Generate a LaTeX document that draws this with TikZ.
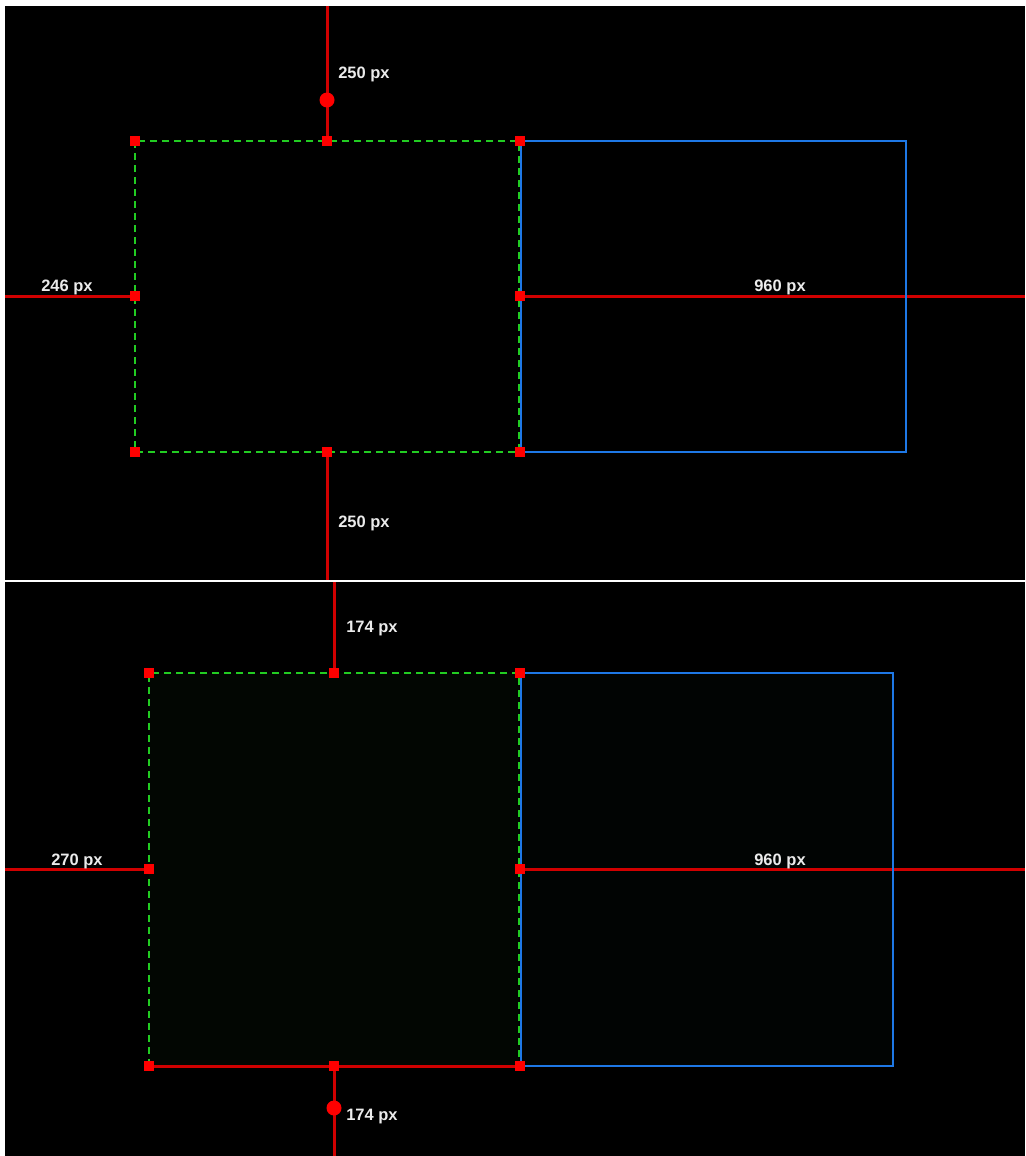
\documentclass[tikz,border=0pt]{standalone}
\usepackage{fontspec}
\setmainfont{Liberation Sans}
\definecolor{rline}{HTML}{D00000}
\definecolor{rsq}{HTML}{FF0000}
\definecolor{gline}{HTML}{22CC22}
\definecolor{bline}{HTML}{1E78E6}
\definecolor{gfill}{HTML}{020602}
\definecolor{bfill}{HTML}{010403}
\begin{document}
\begin{tikzpicture}[x=1pt,y=-1pt,
  redline/.style={draw=rline, line width=3pt},
  sq/.style={fill=rsq, minimum size=10pt, inner sep=0pt, draw=none},
  dot/.style={circle, fill=rsq, minimum size=15pt, inner sep=0pt, draw=none},
  lbl/.style={text=white!92!black, font=\bfseries\fontsize{16.5}{17}\selectfont, inner sep=0pt},
  greenbox/.style={draw=gline, dash pattern=on 7pt off 5pt, line width=2pt},
  bluebox/.style={draw=bline, line width=2.2pt}]
\useasboundingbox (0,0) rectangle (1025,1156);
\fill[white] (0,0) rectangle (1025,1156);
\fill[black] (5,6) rectangle (1025,579.5);
\fill[black] (5,582) rectangle (1025,1156);

% ---------- top panel ----------
\coordinate (tT) at (327,6);
\coordinate (tB) at (327,579.5);
\coordinate (tL) at (5,296);
\coordinate (tR) at (1025,296);
\draw[redline] (tT) -- (327,141);
\draw[redline] (327,452) -- (tB);
\draw[redline] (tL) -- (135,296);
\draw[redline] (520,296) -- (tR);
\draw[greenbox] (135,141) rectangle (519,452);
\draw[bluebox] (521,141) rectangle (906,452);
\node[dot] (tdot) at (327,100) {};
\node[sq] (t1) at (135,141) {};
\node[sq] (t2) at (327,141) {};
\node[sq] (t3) at (520,141) {};
\node[sq] (t4) at (135,296) {};
\node[sq] (t5) at (520,296) {};
\node[sq] (t6) at (135,452) {};
\node[sq] (t7) at (327,452) {};
\node[sq] (t8) at (520,452) {};
\node[lbl] (tl1) at (364,74) {250 px};
\node[lbl] (tl2) at (67,287) {246 px};
\node[lbl] (tl3) at (780,287) {960 px};
\node[lbl] (tl4) at (364,523) {250 px};

% ---------- bottom panel ----------
\coordinate (bT) at (334,582);
\coordinate (bB) at (334,1156);
\coordinate (bL) at (5,869);
\coordinate (bR) at (1025,869);
\fill[gfill] (149,673) rectangle (519,1066);
\fill[bfill] (521,673) rectangle (893,1066);
\draw[redline] (bT) -- (334,673);
\draw[redline] (334,1066) -- (bB);
\draw[redline] (bL) -- (149,869);
\draw[redline] (520,869) -- (bR);
\draw[greenbox] (149,1066) -- (149,673) -- (519,673) -- (519,1066);
\draw[bluebox] (521,673) rectangle (893,1066);
\node[sq] (b1) at (149,673) {};
\node[sq] (b2) at (334,673) {};
\node[sq] (b3) at (520,673) {};
\node[sq] (b4) at (149,869) {};
\node[sq] (b5) at (520,869) {};
\node[sq] (b6) at (149,1066) {};
\node[sq] (b7) at (334,1066) {};
\node[sq] (b8) at (520,1066) {};
\draw[redline] (b6) -- (b7) -- (b8);
\node[dot] (bdot) at (334,1108) {};
\node[lbl] (bl1) at (372,629) {174 px};
\node[lbl] (bl2) at (77,861) {270 px};
\node[lbl] (bl3) at (780,861) {960 px};
\node[lbl] (bl4) at (372,1117) {174 px};
\end{tikzpicture}
\end{document}
